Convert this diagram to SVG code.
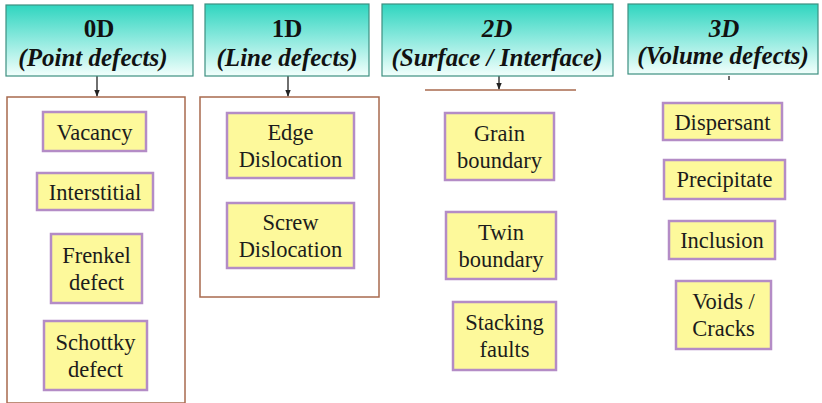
<svg xmlns="http://www.w3.org/2000/svg" width="822" height="403" viewBox="0 0 822 403">
<defs>
<linearGradient id="hg" x1="0" y1="0" x2="0" y2="1">
<stop offset="0" stop-color="#2fd5bf"/>
<stop offset="0.45" stop-color="#86e8dc"/>
<stop offset="1" stop-color="#f2fffc"/>
</linearGradient>
<marker id="ah" viewBox="0 0 10 10" refX="9" refY="5" markerWidth="7" markerHeight="7" orient="auto" markerUnits="userSpaceOnUse">
<path d="M0,1 L10,5 L0,9 z" fill="#222"/>
</marker>
</defs>
<style>
.hdr{fill:url(#hg);stroke:#3d8f80;stroke-width:1.2}
.ht{font-weight:bold;font-size:25px;fill:#111;text-anchor:middle}
.it{font-style:italic}
.cont{fill:#fff;stroke:#a86a4e;stroke-width:1.5}
.bx{fill:#fdf99b;stroke:#b48cc6;stroke-width:2.5}
.bt{font-size:22.5px;fill:#1c1c1c;text-anchor:middle}
.cn{stroke:#222;stroke-width:1.3;fill:none}
</style>
<rect width="822" height="403" fill="#fff"/>

<g id="containers">
<rect class="cont" x="7" y="97" width="178" height="306"/>
<rect class="cont" x="200" y="97" width="179" height="200"/>
<line x1="425" y1="90" x2="576" y2="90" stroke="#a86a4e" stroke-width="1.5"/>
</g>

<g id="connectors">
<line class="cn" x1="97" y1="76" x2="97" y2="96" marker-end="url(#ah)"/>
<line class="cn" x1="288" y1="76" x2="288" y2="96" marker-end="url(#ah)"/>
<line class="cn" x1="499" y1="76" x2="499" y2="89" marker-end="url(#ah)"/>
<line class="cn" x1="729" y1="76" x2="729" y2="80"/>
</g>

<g id="nodes" font-family="Liberation Serif, DejaVu Serif, serif">
<g id="h0d">
<rect class="hdr" x="6" y="5" width="187" height="71"/>
<text class="ht" x="99" y="37">0D</text>
<text class="ht it" x="93" y="66">(Point defects)</text>
</g>
<g id="h1d">
<rect class="hdr" x="205" y="4" width="164" height="72"/>
<text class="ht" x="287" y="37">1D</text>
<text class="ht it" x="287" y="66">(Line defects)</text>
</g>
<g id="h2d">
<rect class="hdr" x="382" y="4" width="231" height="72"/>
<text class="ht it" x="497" y="37">2D</text>
<text class="ht it" x="497" y="66">(Surface / Interface)</text>
</g>
<g id="h3d">
<rect class="hdr" x="628" y="4" width="190" height="70"/>
<text class="ht it" x="724" y="37">3D</text>
<text class="ht it" x="723" y="64">(Volume defects)</text>
</g>

<g id="vacancy"><rect class="bx" x="43" y="112" width="103" height="39"/><text class="bt" x="94.5" y="139.5">Vacancy</text></g>
<g id="interstitial"><rect class="bx" x="37" y="173" width="116" height="37"/><text class="bt" x="95" y="199.5">Interstitial</text></g>
<g id="frenkel"><rect class="bx" x="51" y="234" width="91" height="69"/><text class="bt" x="96.5" y="263">Frenkel</text><text class="bt" x="96.5" y="290">defect</text></g>
<g id="schottky"><rect class="bx" x="44" y="321" width="103" height="69"/><text class="bt" x="95.5" y="350">Schottky</text><text class="bt" x="95.5" y="377">defect</text></g>

<g id="edge"><rect class="bx" x="227" y="113" width="127" height="65"/><text class="bt" x="290.5" y="140">Edge</text><text class="bt" x="290.5" y="167">Dislocation</text></g>
<g id="screw"><rect class="bx" x="227" y="203" width="127" height="65"/><text class="bt" x="290.5" y="230">Screw</text><text class="bt" x="290.5" y="257">Dislocation</text></g>

<g id="grain"><rect class="bx" x="445" y="113" width="109" height="67"/><text class="bt" x="499.5" y="141">Grain</text><text class="bt" x="499.5" y="168">boundary</text></g>
<g id="twin"><rect class="bx" x="446" y="212" width="110" height="67"/><text class="bt" x="501" y="240">Twin</text><text class="bt" x="501" y="267">boundary</text></g>
<g id="stacking"><rect class="bx" x="453" y="302" width="103" height="68"/><text class="bt" x="504.5" y="330">Stacking</text><text class="bt" x="504.5" y="357">faults</text></g>

<g id="dispersant"><rect class="bx" x="663" y="103" width="119" height="37"/><text class="bt" x="722.5" y="129.5">Dispersant</text></g>
<g id="precipitate"><rect class="bx" x="664" y="160" width="121" height="39"/><text class="bt" x="724.5" y="187">Precipitate</text></g>
<g id="inclusion"><rect class="bx" x="669" y="221" width="106" height="38"/><text class="bt" x="722" y="248">Inclusion</text></g>
<g id="voids"><rect class="bx" x="676" y="281" width="95" height="68"/><text class="bt" x="723.5" y="309">Voids /</text><text class="bt" x="723.5" y="336">Cracks</text></g>
</g>
</svg>
